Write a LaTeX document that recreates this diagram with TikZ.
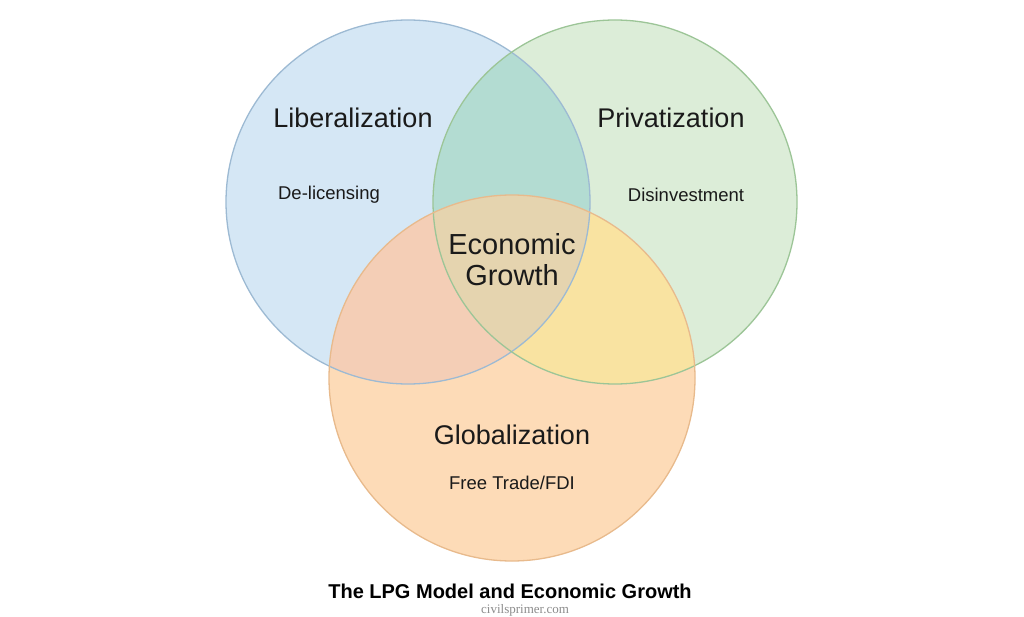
\documentclass[tikz,border=0pt]{standalone}
\usepackage{fontspec}
\setmainfont{Liberation Sans}
\newfontfamily\wmfont{Liberation Serif}
\definecolor{bfill}{HTML}{D5E7F5}
\definecolor{gfill}{HTML}{DCEDD8}
\definecolor{ofill}{HTML}{FDDBB7}
\definecolor{bgfill}{HTML}{B3DCD2}
\definecolor{bofill}{HTML}{F4CEB6}
\definecolor{gofill}{HTML}{F9E3A1}
\definecolor{allfill}{HTML}{E5D4AF}
\definecolor{bline}{HTML}{9DBAD3}
\definecolor{gline}{HTML}{9CC597}
\definecolor{oline}{HTML}{E8BA8C}
\definecolor{txt}{HTML}{1A1A1A}
\tikzset{
  bigtxt/.style={text=txt, inner sep=0pt, font=\fontsize{27}{32}\selectfont},
  smalltxt/.style={text=txt, inner sep=0pt, font=\fontsize{18.5}{22}\selectfont},
  centertxt/.style={text=txt, inner sep=0pt, align=center, font=\fontsize{29}{31}\selectfont},
  titletxt/.style={text=black, inner sep=0pt, font=\bfseries\fontsize{20}{24}\selectfont},
  wmtxt/.style={text=black!45, inner sep=0pt, font=\wmfont\fontsize{13}{15}\selectfont},
  ring/.style={line width=1.3pt}
}
\begin{document}
\begin{tikzpicture}[x=1pt,y=-1pt]
\useasboundingbox (0,0) rectangle (1024,617);
\fill[white] (0,0) rectangle (1024,617);
\def\B{(408,202) circle (182)}
\def\G{(615,202) circle (182)}
\def\O{(512,378) circle (183)}
\fill[bfill] \B;
\fill[gfill] \G;
\fill[ofill] \O;
\begin{scope}\clip \B; \fill[bgfill] \G; \fill[bofill] \O; \end{scope}
\begin{scope}\clip \G; \fill[gofill] \O; \end{scope}
\begin{scope}\clip \B; \clip \G; \fill[allfill] \O; \end{scope}
\draw[ring, bline] \B;
\draw[ring, gline] \G;
\draw[ring, oline] \O;
\node[bigtxt] (lib) at (353,118) {Liberalization};
\node[bigtxt] (pri) at (671,118) {Privatization};
\node[smalltxt] (delic) at (329,195) {De-licensing};
\node[smalltxt] (disinv) at (686,195) {Disinvestment};
\node[centertxt] (eg) at (512,260) {Economic\\Growth};
\node[bigtxt] (glob) at (512,435) {Globalization};
\node[smalltxt] (ftfdi) at (512,483) {Free Trade/FDI};
\node[titletxt] (title) at (510,591) {The LPG Model and Economic Growth};
\node[wmtxt] (wm) at (525,610) {civilsprimer.com};
\end{tikzpicture}
\end{document}
